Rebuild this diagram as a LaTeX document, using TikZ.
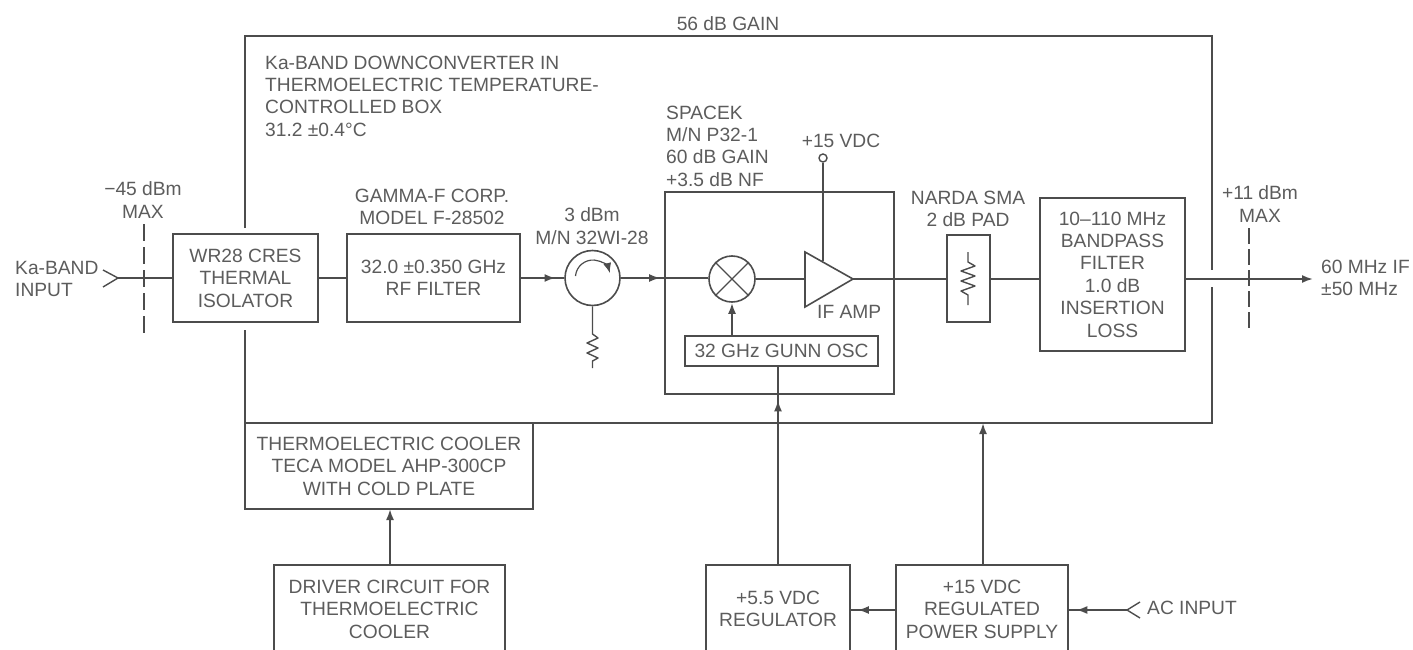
\documentclass[tikz,border=0pt]{standalone}
\usepackage{fontspec}
\setmainfont{Liberation Sans}
\usetikzlibrary{arrows.meta,decorations.markings}
\definecolor{ink}{gray}{0.30}
\definecolor{txt}{gray}{0.36}
\tikzset{
  x=1pt,y=-1pt,
  wire/.style={draw=ink,line width=1.9pt},
  thin wire/.style={draw=ink,line width=1.4pt},
  boxn/.style={draw=ink,line width=1.6pt,rectangle,inner sep=0pt,text=txt,align=center,font=\fontsize{19.2}{22.4}\selectfont},
  lab/.style={inner sep=0pt,text=txt,align=center,font=\fontsize{19.2}{22.4}\selectfont},
  labl/.style={lab,align=left},
  arr/.style={wire,-{Latex[length=11pt,width=8pt]}},
  dashline/.style={draw=ink,line width=1.5pt,dash pattern=on 17pt off 6pt},
  midarr/.style={postaction={decorate},decoration={markings,mark=at position #1 with {\arrow{Latex[length=11pt,width=8pt]}}}},
}
\newcommand{\bx}[7][]{\node[boxn,minimum width=#5-#3,minimum height=#6-#4,#1] (#2) at ({(#3+#5)/2},{(#4+#6)/2}) {#7};}
\begin{document}
\begin{tikzpicture}
\useasboundingbox (0,0) rectangle (1413,650);
% outer box with wall gaps
\coordinate (wallTL) at (245,36);
\coordinate (wallTR) at (1212,36);
\coordinate (wallBL) at (245,423);
\coordinate (wallBR) at (1212,423);
\draw[thin wire] (245,228) -- (wallTL) -- (wallTR) -- (1212,270);
\draw[thin wire] (1212,287) -- (wallBR) -- (wallBL) -- (245,330);
% labels
\node[lab] (gain) at (728,24) {56 dB GAIN};
\node[labl,anchor=west] (title) at (265,96) {Ka-BAND DOWNCONVERTER IN\\THERMOELECTRIC TEMPERATURE-\\CONTROLLED BOX\\31.2 ±0.4°C};
\node[labl,anchor=west] (spacek) at (666,146) {SPACEK\\M/N P32-1\\60 dB GAIN\\+3.5 dB NF};
\node[lab] (inmax) at (143,200) {−45 dBm\\MAX};
\node[lab] (outmax) at (1260,204) {+11 dBm\\MAX};
\node[lab,align=left,anchor=west] (kain) at (15,279) {Ka-BAND\\INPUT};
\node[lab,align=left,anchor=west] (ifout) at (1321,278) {60 MHz IF\\±50 MHz};
\node[lab] (gammal) at (432,207) {GAMMA-F CORP.\\MODEL F-28502};
\node[lab] (circl) at (592,226) {3 dBm\\M/N 32WI-28};
\node[lab] (vdc) at (841,141) {+15 VDC};
\node[lab] (pad) at (968,209) {NARDA SMA\\2 dB PAD};
\node[lab,anchor=west] (ifamp) at (817,312) {IF AMP};
\node[lab,anchor=west] (acin) at (1147,608) {AC INPUT};
% boxes
\bx{iso}{173}{234}{318}{322}{WR28 CRES\\THERMAL\\ISOLATOR}
\bx{rf}{347}{234}{520}{322}{32.0 ±0.350 GHz\\RF FILTER}
\bx{spk}{665}{192}{894}{394}{}
\bx{gunn}{685}{336}{878}{366}{32 GHz GUNN OSC}
\bx{pad box}{947}{235}{990}{322}{}
\bx{bpf}{1040}{198}{1185}{351}{10–110 MHz\\BANDPASS\\FILTER\\1.0 dB\\INSERTION\\LOSS}
\bx{tec}{245}{423}{533}{509}{THERMOELECTRIC COOLER\\TECA MODEL AHP-300CP\\WITH COLD PLATE}
\bx{drv}{274}{565}{505}{653}{DRIVER CIRCUIT FOR\\THERMOELECTRIC\\COOLER}
\bx{reg}{706}{565}{850}{653}{+5.5 VDC\\REGULATOR}
\bx{psu}{896}{565}{1068}{653}{+15 VDC\\REGULATED\\POWER SUPPLY}
% circulator
\node[circle,draw=ink,line width=1.6pt,minimum size=55pt,inner sep=0pt] (circ) at (592.5,278) {};
\draw[draw=ink,line width=1.2pt,-{Latex[length=10pt,width=8pt]}] (575.5,276) arc[start angle=-175,end angle=-15,radius=17.5];
% mixer
\node[circle,draw=ink,line width=1.6pt,minimum size=46pt,inner sep=0pt] (mix) at (732,279) {};
\draw[draw=ink,line width=1.2pt] (mix.45) -- (mix.225) (mix.135) -- (mix.315);
% amplifier
\coordinate (ampT) at (805,252);
\coordinate (ampB) at (805,307);
\coordinate (ampO) at (853,279);
\coordinate (ampI) at (805,279);
\coordinate (ampS) at (823,261);
\draw[draw=ink,line width=1.6pt,line join=miter] (ampT) -- (ampO) -- (ampB) -- cycle;
\node[circle,draw=ink,line width=1.4pt,minimum size=8pt,inner sep=0pt] (vterm) at (823,158) {};
% signal path
\coordinate (inTip) at (118,278);
\coordinate (outTip) at (1313,279);
\draw[draw=ink,line width=1.4pt] (103,270) -- (inTip) -- (103,287);
\draw[wire] (inTip) -- (iso.west);
\draw[wire] (iso.east) -- (rf.west);
\draw[wire,midarr=0.8] (rf.east) -- (circ.west);
\draw[wire,midarr=0.45] (circ.east) -- (mix.west|-circ.east);
\draw[wire] (mix.east) -- (ampI);
\draw[wire] (ampO) -- (ampO-|pad box.west);
\draw[wire] (ampO-|pad box.east) -- (ampO-|bpf.west);
\draw[arr] (ampO-|bpf.east) -- (outTip);
\draw[thin wire] (vterm.south) -- (ampS);
\draw[arr] (gunn.north-|mix.south) -- (mix.south);
% resistor below circulator
\coordinate (r1) at (592.5,368);
\draw[thin wire,line join=round] (circ.south) -- (592.5,334) -- (598,338) -- (587,343) -- (598,348) -- (587,353) -- (598,358) -- (592.5,361) -- (r1);
% pad resistor
\coordinate (p1) at (968,252);
\coordinate (p2) at (968,305);
\draw[thin wire,line join=round] (p1) -- (968,262) -- (975,266) -- (961,271) -- (975,276) -- (961,281) -- (975,286) -- (961,291) -- (968,295) -- (p2);
% dashed planes
\coordinate (dl1) at (144,224);
\coordinate (dl2) at (144,333);
\coordinate (dr1) at (1249,228);
\coordinate (dr2) at (1249,328);
\draw[dashline] (dl1) -- (dl2);
\draw[dashline,dash pattern=on 16pt off 5pt] (dr1) -- (dr2);
% supply connections
\draw[arr] (drv.north-|390,565) -- (390,509);
\draw[wire,midarr=0.83] (reg.north-|778,0) -- (gunn.south-|778,0);
\draw[arr] (psu.north-|983,0) -- (wallBL-|983,0);
\coordinate (psW) at (896,610);
\coordinate (regE) at (850,610);
\draw[wire,midarr=0.83] (psW) -- (regE);
\coordinate (acTip) at (1127,610);
\coordinate (psE) at (1068,610);
\draw[wire,midarr=0.86] (acTip) -- (psE);
\draw[draw=ink,line width=1.4pt] (1140,602) -- (acTip) -- (1140,618);
\end{tikzpicture}
\end{document}
